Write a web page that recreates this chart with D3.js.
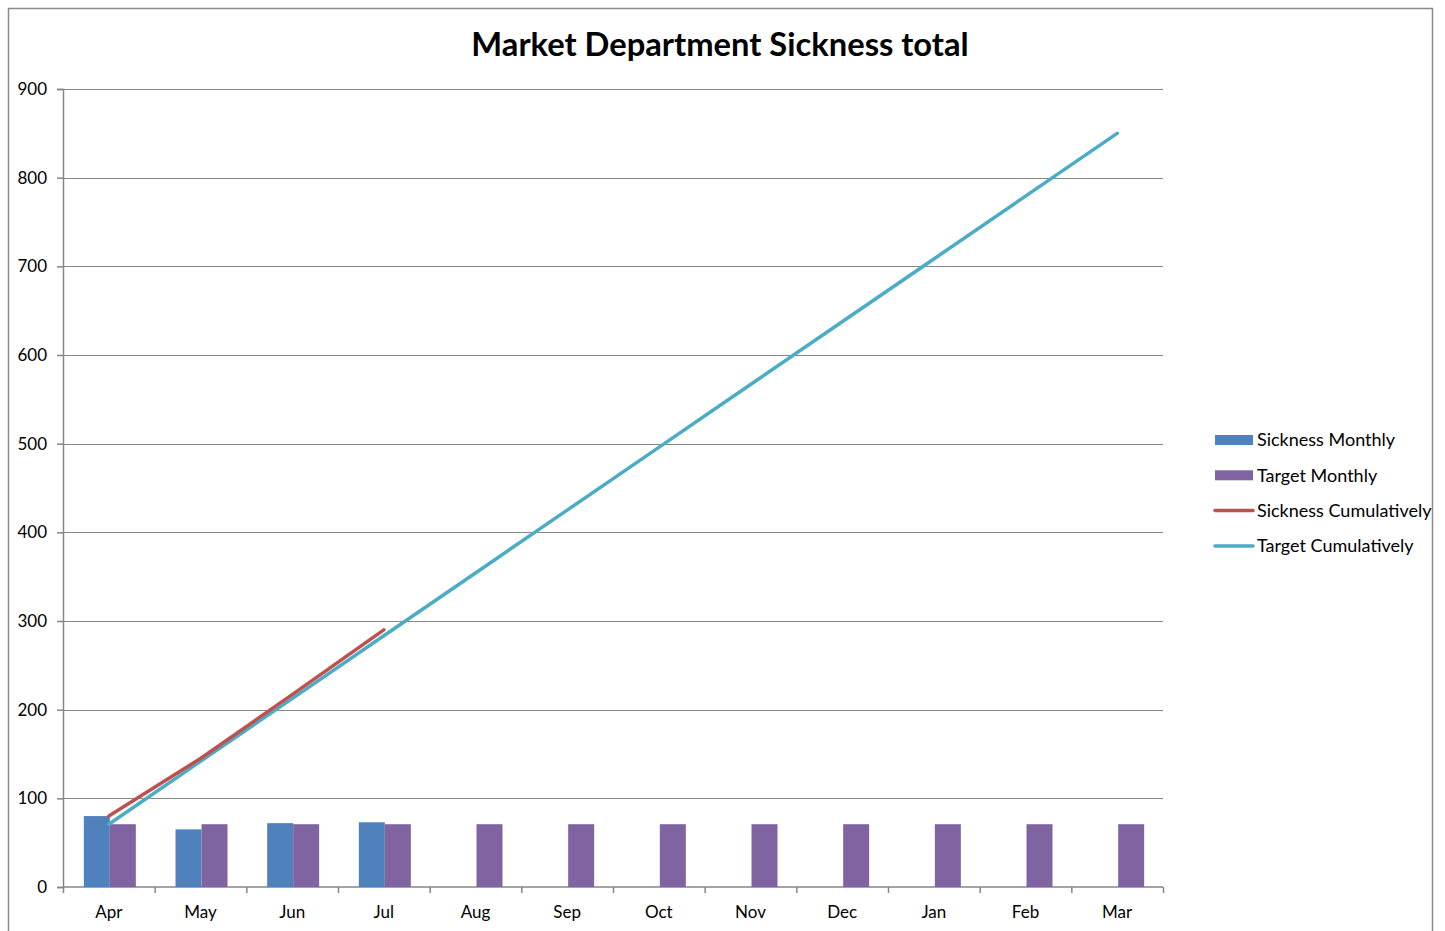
<!DOCTYPE html>
<html>
<head>
<meta charset="utf-8">
<script src="https://cdn.jsdelivr.net/npm/d3@7"></script>
<style>
  body { margin: 0; background: #fff; }
  svg text { font-family: Lato, "Open Sans", sans-serif; fill: #000; }
</style>
</head>
<body>
<div class="container"></div>
<script>
const months = ['Apr','May','Jun','Jul','Aug','Sep','Oct','Nov','Dec','Jan','Feb','Mar'];
const sicknessMonthly = [80, 65, 72, 73];
const targetMonthly = [70.83, 70.83, 70.83, 70.83, 70.83, 70.83, 70.83, 70.83, 70.83, 70.83, 70.83, 70.83];
const sicknessCum = [80, 145, 217, 290];
const targetCum = [70.83, 141.67, 212.5, 283.33, 354.17, 425, 495.83, 566.67, 637.5, 708.33, 779.17, 850];
const yTicks = [0, 100, 200, 300, 400, 500, 600, 700, 800, 900];
const seriesNames = ['Sickness Monthly', 'Target Monthly', 'Sickness Cumulatively', 'Target Cumulatively'];

const w = 1445, h = 931;
const margin = { top: 89, left: 63, right: 282, bottom: 44 };
const width = w - margin.left - margin.right;
const height = h - margin.top - margin.bottom;
const gridColor = '#868686';

const svg = d3.select('.container').append('svg')
    .attr('width', w)
    .attr('height', h);

// outer chart frame
svg.append('rect')
    .attr('x', 8.5).attr('y', 8.5)
    .attr('width', 1424).attr('height', 940)
    .attr('fill', 'none')
    .attr('stroke', '#8a8a8a')
    .attr('stroke-width', 1.5);

svg.append('text')
    .attr('x', 720).attr('y', 56)
    .attr('text-anchor', 'middle')
    .style('font-size', '32.7px')
    .style('font-weight', 'bold')
    .text('Market Department Sickness total');

const chart = svg.append('g')
    .attr('transform', `translate(${margin.left}, ${margin.top})`);

const x = d3.scaleBand().domain(months).range([0, width]);
const y = d3.scaleLinear().domain([0, 900]).range([height, 0]);

// gridlines
chart.append('g')
    .selectAll('line')
    .data(yTicks.slice(1))
    .enter().append('line')
      .attr('x1', 0).attr('x2', width)
      .attr('y1', d => Math.round(y(d)) + 0.5)
      .attr('y2', d => Math.round(y(d)) + 0.5)
      .attr('stroke', gridColor)
      .attr('stroke-width', 1);

const yAxis = d3.axisLeft(y).tickValues(yTicks).tickSize(6).tickPadding(10);
const yg = chart.append('g').call(yAxis);
yg.select('.domain').attr('stroke', gridColor).attr('stroke-width', 1.5);
yg.selectAll('.tick line').attr('stroke', gridColor).attr('stroke-width', 1.5);
yg.selectAll('.tick text').style('font-size', '17px').attr('font-family', null);

const x2 = d3.scaleLinear().domain([0, 12]).range([0, width]);
const xAxis = d3.axisBottom(x2).tickValues(d3.range(13)).tickSize(6).tickFormat('');
const xg = chart.append('g')
    .attr('transform', `translate(0, ${height})`)
    .call(xAxis);
xg.select('.domain').attr('stroke', gridColor).attr('stroke-width', 1.5).attr('d', `M0,0H${width}`);
xg.selectAll('.tick line').attr('stroke', gridColor).attr('stroke-width', 1.5);

chart.append('g')
    .selectAll('text')
    .data(months)
    .enter().append('text')
      .attr('x', d => x(d) + x.bandwidth() / 2)
      .attr('y', height + 31)
      .attr('text-anchor', 'middle')
      .style('font-size', '17px')
      .text(d => d);

const barW = 26;
const colors = ['#4f81bd', '#8064a2', '#c0504d', '#4bacc6'];

chart.append('g')
    .selectAll('rect')
    .data(sicknessMonthly)
    .enter().append('rect')
      .attr('x', (d, i) => x(months[i]) + x.bandwidth() / 2 - barW + 1)
      .attr('y', d => y(d))
      .attr('width', barW)
      .attr('height', d => height - y(d))
      .attr('fill', colors[0]);

chart.append('g')
    .selectAll('rect')
    .data(targetMonthly)
    .enter().append('rect')
      .attr('x', (d, i) => x(months[i]) + x.bandwidth() / 2 + 1)
      .attr('y', d => y(d))
      .attr('width', barW)
      .attr('height', d => height - y(d))
      .attr('fill', colors[1]);

const line = d3.line()
    .x((d, i) => x(months[i]) + x.bandwidth() / 2)
    .y(d => y(d));

chart.append('path')
    .datum(targetCum)
    .attr('d', line)
    .attr('fill', 'none')
    .attr('stroke', colors[3])
    .attr('stroke-width', 3.5)
    .attr('stroke-linecap', 'round');

chart.append('path')
    .datum(sicknessCum)
    .attr('d', line)
    .attr('fill', 'none')
    .attr('stroke', colors[2])
    .attr('stroke-width', 3.5)
    .attr('stroke-linecap', 'round');

// legend
const legend = svg.selectAll('.legend')
    .data(seriesNames)
    .enter().append('g')
      .attr('class', 'legend')
      .attr('transform', (d, i) => `translate(1215, ${440 + i * 35.3})`);

legend.filter((d, i) => i < 2).append('rect')
    .attr('x', 0).attr('y', -5)
    .attr('width', 38).attr('height', 10)
    .attr('fill', (d, i) => colors[i]);

legend.filter((d, i) => i >= 2).append('line')
    .attr('x1', 0).attr('x2', 38)
    .attr('y1', 0).attr('y2', 0)
    .attr('stroke', (d, i) => colors[i + 2])
    .attr('stroke-width', 3.5)
    .attr('stroke-linecap', 'round');

legend.append('text')
    .attr('x', 42)
    .attr('y', 0)
    .attr('dy', '0.35em')
    .style('font-size', '18px')
    .text(d => d);
</script>
</body>
</html>
